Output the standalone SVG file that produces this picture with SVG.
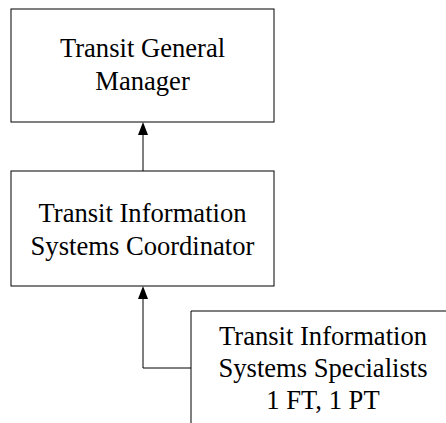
<svg xmlns="http://www.w3.org/2000/svg" width="446" height="423" viewBox="0 0 446 423">
<style>
.box{fill:#fff;stroke:#000;stroke-width:1}
.t{font-family:"Liberation Serif","Times New Roman",serif;font-size:26.6px;fill:#000;text-anchor:middle}
.c{fill:none;stroke:#000;stroke-width:1}
.ah{fill:#000}
</style>
<rect width="446" height="423" fill="#fff"/>
<g id="gm">
<rect class="box" x="11" y="9" width="263" height="113"/>
<text class="t" x="142.5" y="57">Transit General</text>
<text class="t" x="142.5" y="90">Manager</text>
</g>
<g id="coord">
<rect class="box" x="11" y="171" width="263" height="115"/>
<text class="t" x="142.5" y="222">Transit Information</text>
<text class="t" x="142.5" y="255">Systems Coordinator</text>
</g>
<g id="spec">
<path class="box" d="M191,430 L191,311 L460,311"/>
<text class="t" x="323" y="345">Transit Information</text>
<text class="t" x="323" y="377">Systems Specialists</text>
<text class="t" x="323" y="409">1 FT, 1 PT</text>
</g>
<g id="connectors">
<path class="c" d="M143,171 L143,134"/>
<path class="ah" d="M143,122 L148,135 L138,135 Z"/>
<path class="c" d="M191,368 L143,368 L143,298"/>
<path class="ah" d="M143,286 L148,299 L138,299 Z"/>
</g>
</svg>
